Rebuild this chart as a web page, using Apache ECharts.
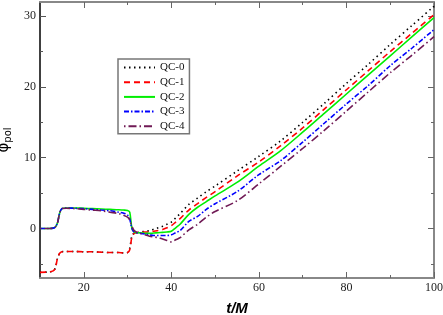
<!DOCTYPE html>
<html><head><meta charset="utf-8">
<script src="https://cdn.jsdelivr.net/npm/echarts@6/dist/echarts.min.js"></script>
<style>html,body{margin:0;padding:0;background:#fff}#c{width:443px;height:315px}</style>
</head><body><div id="c"></div>
<script>
var seriesNames = ['QC-0','QC-1','QC-2','QC-3','QC-4'];
var tValues = [10,12,13,13.5,14,14.5,15,16,18,20,22,24,26,28,29,30,30.5,31,31.5,32,33,34,35,36,37,38,39,40,41,42,44,46,48,50,55,60,65,70,75,80,85,90,95,100];
var qc0 = [-6.2,-6.15,-6.0,-5.6,-4.2,-3.5,-3.3,-3.25,-3.25,-3.3,-3.3,-3.35,-3.4,-3.4,-3.45,-3.4,-2.8,-1.0,-0.7,-0.6,-0.5,-0.4,-0.3,-0.1,0.1,0.3,0.6,0.9,1.5,2.1,3.4,4.3,5.2,6.0,8.1,10.2,12.4,15.0,17.7,20.5,23.2,26.0,28.7,31.4];
var qc1 = [-6.2,-6.15,-6.0,-5.6,-4.2,-3.5,-3.3,-3.25,-3.25,-3.3,-3.3,-3.35,-3.4,-3.4,-3.45,-3.4,-3.0,-1.2,-0.7,-0.6,-0.5,-0.5,-0.5,-0.4,-0.3,-0.15,0.1,0.4,0.9,1.4,2.6,3.5,4.4,5.2,7.4,9.4,11.7,14.2,16.9,19.6,22.3,25.0,27.6,30.2];
var qc2 = [0,0,0.05,0.2,0.8,2.2,2.8,2.9,2.9,2.85,2.8,2.75,2.7,2.65,2.6,2.55,2.3,0.0,-0.5,-0.6,-0.6,-0.7,-0.7,-0.65,-0.6,-0.55,-0.5,-0.4,0.1,0.6,2.0,3.0,3.8,4.6,6.5,8.8,11.0,13.6,16.3,19.0,21.7,24.4,27.1,29.8];
var qc3 = [0,0,0.05,0.2,0.8,2.2,2.8,2.9,2.85,2.8,2.7,2.6,2.5,2.3,2.2,1.9,1.3,0.0,-0.5,-0.6,-0.7,-0.8,-0.9,-1.0,-1.0,-1.0,-1.0,-0.9,-0.6,-0.3,1.0,1.7,2.7,3.5,5.2,7.6,9.6,12.2,14.9,17.6,20.2,23.0,25.5,28.1];
var qc4 = [0,0,0.05,0.2,0.8,2.2,2.8,2.85,2.8,2.7,2.6,2.5,2.3,2.1,1.9,1.6,1.2,0.3,-0.3,-0.5,-0.7,-0.9,-1.1,-1.2,-1.3,-1.5,-1.7,-1.9,-1.6,-1.3,-0.2,0.6,1.6,2.4,3.9,6.3,8.8,11.3,13.9,16.6,19.3,22.0,24.5,27.1];
var xLabels = [20,40,60,80,100];
var xMinor = [30,50,70,90];
var yLabels = [0,10,20,30];
var yMinor = [-5,5,15,25];

var colors = ['#000000','#ff0000','#00ee00','#0000ff','#701a55'];
var dashes = [[1.5,3.5],[6,4],'solid',[5,2,1.5,2],[1.5,3,8,3]];
var values = [qc0,qc1,qc2,qc3,qc4];

function zip(t, v){ return t.map(function(x,i){return [x,v[i]];}); }

var serif = 'Liberation Serif';
var baseX = {type:'value',min:10,max:100,gridIndex:0,splitLine:{show:false}};
var baseY = {type:'value',min:-7,max:32,gridIndex:0,splitLine:{show:false}};
function ax(base, extra){ var o={}; for(var k in base)o[k]=base[k]; for(var k2 in extra)o[k2]=extra[k2]; return o; }

var option = {
  animation:false,
  grid:{left:40,right:9,top:2,bottom:37,containLabel:false,outerBoundsMode:'none'},
  legend:{
    orient:'vertical', left:118, top:59,
    data:seriesNames,
    itemWidth:31, itemHeight:10, itemGap:3.7, itemTextGap:8,
    padding:[3,5,2,5],
    borderColor:'#777', borderWidth:1.5, backgroundColor:'#fff',
    textStyle:{fontFamily:serif,fontSize:11,color:'#111'},
    itemStyle:{opacity:0,borderWidth:0},
    lineStyle:{inherit:true}
  },
  xAxis:[
    ax(baseX,{position:'bottom',
      name:'t/M',nameLocation:'middle',nameGap:23,
      nameTextStyle:{fontFamily:'Liberation Sans',fontWeight:'bold',fontStyle:'italic',fontSize:15,color:'#000'},
      axisLine:{onZero:false,lineStyle:{color:'#888',width:2}},
      axisTick:{inside:true,length:6,customValues:xLabels,lineStyle:{color:'#666'}},
      axisLabel:{customValues:xLabels,fontFamily:serif,fontSize:12,color:'#222',margin:4}}),
    ax(baseX,{position:'bottom',
      axisLine:{show:false,onZero:false},
      axisTick:{inside:true,length:3,customValues:xMinor,lineStyle:{color:'#666'}},
      axisLabel:{show:false}}),
    ax(baseX,{position:'top',
      axisLine:{onZero:false,lineStyle:{color:'#888',width:2}},
      axisTick:{inside:true,length:6,customValues:xLabels,lineStyle:{color:'#666'}},
      axisLabel:{show:false}}),
    ax(baseX,{position:'top',
      axisLine:{show:false,onZero:false},
      axisTick:{inside:true,length:3,customValues:xMinor,lineStyle:{color:'#666'}},
      axisLabel:{show:false}})
  ],
  yAxis:[
    ax(baseY,{position:'left',
      name:'{a|φ}{b|pol}',nameLocation:'middle',nameGap:19,nameRotate:90,
      nameTextStyle:{rich:{a:{fontFamily:'DejaVu Sans',fontSize:15,color:'#000'},b:{fontFamily:'DejaVu Sans',fontSize:10,color:'#000',padding:[8,0,0,0]}}},
      axisLine:{onZero:false,lineStyle:{color:'#000',width:1.5}},
      axisTick:{inside:true,length:6,customValues:yLabels,lineStyle:{color:'#555'}},
      axisLabel:{customValues:yLabels,fontFamily:serif,fontSize:12,color:'#222',margin:4}}),
    ax(baseY,{position:'left',
      axisLine:{show:false,onZero:false},
      axisTick:{inside:true,length:3,customValues:yMinor,lineStyle:{color:'#555'}},
      axisLabel:{show:false}}),
    ax(baseY,{position:'right',
      axisLine:{onZero:false,lineStyle:{color:'#888',width:2}},
      axisTick:{inside:true,length:6,customValues:yLabels,lineStyle:{color:'#666'}},
      axisLabel:{show:false}}),
    ax(baseY,{position:'right',
      axisLine:{show:false,onZero:false},
      axisTick:{inside:true,length:3,customValues:yMinor,lineStyle:{color:'#666'}},
      axisLabel:{show:false}})
  ],
  series: seriesNames.map(function(n,i){
    return {name:n,type:'line',xAxisIndex:0,yAxisIndex:0,data:zip(tValues,values[i]),
      showSymbol:false,symbol:'none',smooth:0.3,
      lineStyle:{color:colors[i],width:1.6,type:dashes[i]},
      itemStyle:{color:colors[i]},
      z:10+i};
  })
};
var chart = echarts.init(document.getElementById('c'),null,{renderer:'canvas'});
chart.setOption(option);
</script></body></html>
